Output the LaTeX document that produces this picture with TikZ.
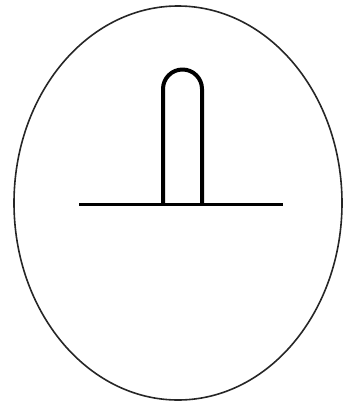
\documentclass[tikz,border=0pt]{standalone}
\usepackage{tikz}

\begin{document}
\begin{tikzpicture}[
    x=1pt, y=-1pt,
    rim/.style={draw=black!85, line width=1.6pt},
    ground/.style={draw=black, line width=3pt},
    loop/.style={draw=black, line width=4pt, line join=round},
]
\useasboundingbox (0,0) rectangle (347,405);

% ===========================================================================
% Contorno
% ===========================================================================
\draw[rim] (178,203) ellipse [x radius=164, y radius=197];

% ===========================================================================
% Línea base y lazo
% ===========================================================================
\draw[ground] (79,204) -- (283,204);

\draw[loop] (163,204) -- (163,89) arc [start angle=180, end angle=360, radius=19.5]
      -- (202,204);

\end{tikzpicture}
\end{document}
